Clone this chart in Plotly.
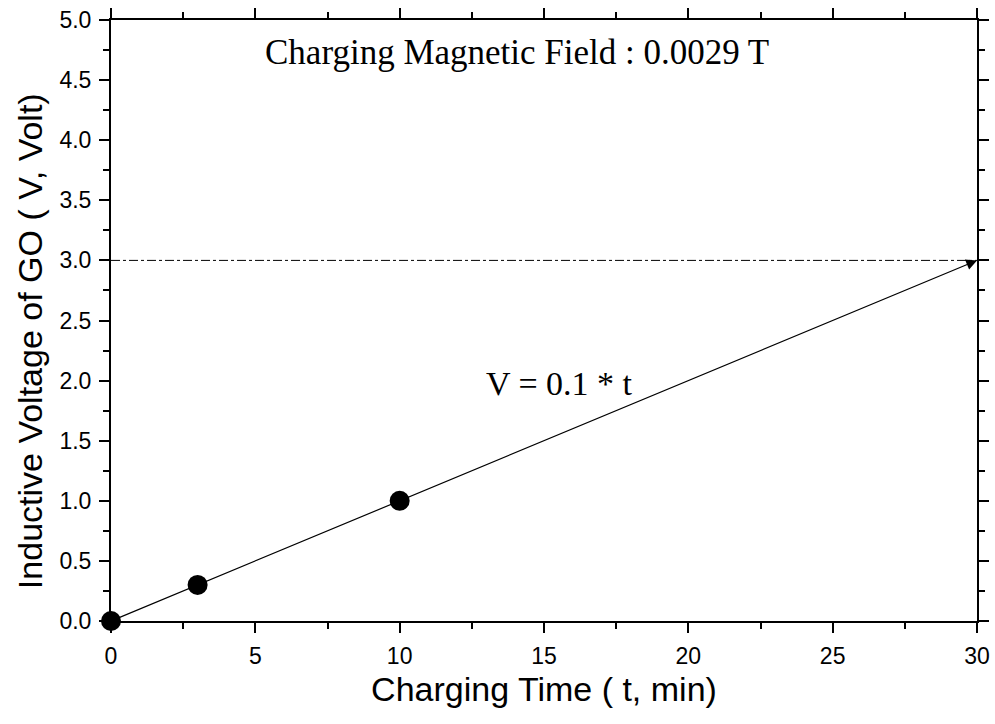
import plotly.graph_objects as go

# Data
time_min = [0, 3, 10]
voltage = [0.0, 0.3, 1.0]
fit_t = [0, 30]
fit_v = [0.0, 3.0]
ref_level = 3.0
x_ticks = [0, 5, 10, 15, 20, 25, 30]
y_ticks = [0.0, 0.5, 1.0, 1.5, 2.0, 2.5, 3.0, 3.5, 4.0, 4.5, 5.0]

fig = go.Figure()

fig.add_trace(go.Scatter(x=[0, 30], y=[ref_level, ref_level], mode="lines",
                         line=dict(color="black", width=1, dash="dashdot"),
                         showlegend=False, hoverinfo="skip"))
fig.add_trace(go.Scatter(x=time_min, y=voltage, mode="markers",
                         marker=dict(color="black", size=20, symbol="circle"),
                         showlegend=False, cliponaxis=False))

fig.add_annotation(x=fit_t[1], y=fit_v[1], ax=fit_t[0], ay=fit_v[0],
                   xref="x", yref="y", axref="x", ayref="y",
                   showarrow=True, arrowhead=2, arrowsize=1.8, arrowwidth=1.2,
                   arrowcolor="black", text="", standoff=0, startstandoff=0)

fig.add_annotation(x=14.05, y=4.73, text="Charging Magnetic Field : 0.0029 T",
                   showarrow=False, xref="x", yref="y",
                   font=dict(family="Liberation Serif", size=35, color="black"))
fig.add_annotation(x=15.55, y=1.98, text="V = 0.1 * t",
                   showarrow=False, xref="x", yref="y",
                   font=dict(family="Liberation Serif", size=34, color="black"))

# y-axis title as a rotated annotation (sits slightly below the plot centre)
fig.add_annotation(x=-0.094, y=0.465, xref="paper", yref="paper", xanchor="center",
                   yanchor="middle", textangle=-90, showarrow=False,
                   text="Inductive Voltage of GO ( V, Volt)",
                   font=dict(family="Liberation Sans", size=34, color="black"))

axis_common = dict(showgrid=False, zeroline=False, showline=True, linecolor="black",
                   linewidth=2, ticks="outside", tickcolor="black", tickwidth=1.5,
                   ticklen=10, mirror="allticks", ticklabelstandoff=3, automargin=False,
                   tickfont=dict(family="Liberation Sans", size=23, color="black"))

fig.update_xaxes(range=[0, 30], tickvals=x_ticks, ticktext=[str(v) for v in x_ticks],
                 minor=dict(dtick=2.5, ticks="outside", ticklen=6, tickcolor="black", tickwidth=1.5),
                 title=dict(text="Charging Time ( t, min)", standoff=10,
                            font=dict(family="Liberation Sans", size=34, color="black")),
                 **axis_common)
fig.update_yaxes(range=[0, 5], tickvals=y_ticks, ticktext=[f"{v:.1f}" for v in y_ticks],
                 minor=dict(dtick=0.25, ticks="outside", ticklen=6, tickcolor="black", tickwidth=1.5),
                 **axis_common)

fig.update_layout(width=995, height=724, margin=dict(l=111, r=18, t=20, b=103),
                  plot_bgcolor="white", paper_bgcolor="white")

fig.write_html("out.html", config={"displayModeBar": False},
               post_script="document.body.style.margin='0';")
